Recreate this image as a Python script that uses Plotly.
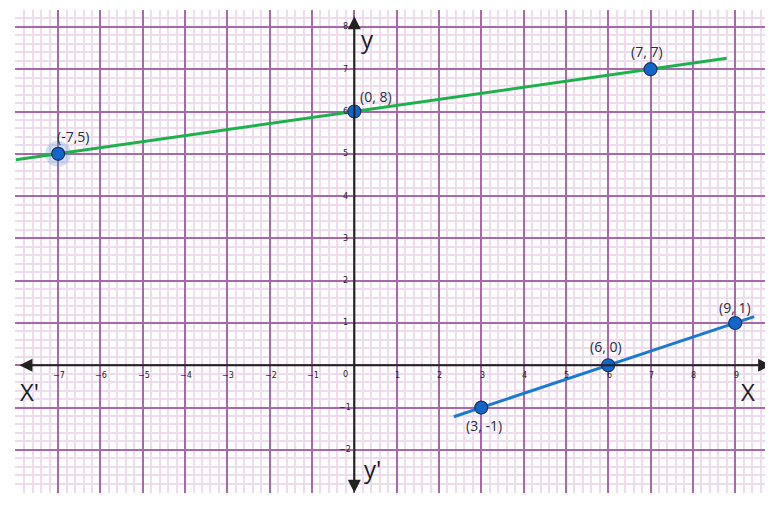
import plotly.graph_objects as go

# green line: y = x/7 + 6
green_x = [-8, 8.8]
green_y = [-8 / 7 + 6, 8.8 / 7 + 6]
green_pts_x = [-7, 0, 7]
green_pts_y = [5, 6, 7]
green_labels = ['(-7,5)', '(0, 8)', '(7, 7)']

# blue line: y = (x - 6)/3
blue_x = [2.35, 9.45]
blue_y = [(2.35 - 6) / 3, (9.45 - 6) / 3]
blue_pts_x = [3, 6, 9]
blue_pts_y = [-1, 0, 1]
blue_labels = ['(3, -1)', '(6, 0)', '(9, 1)']

x_ticks = [-7, -6, -5, -4, -3, -2, -1, 1, 2, 3, 4, 5, 6, 7, 8, 9]
y_ticks = [-2, -1, 1, 2, 3, 4, 5, 6, 7, 8]

fig = go.Figure()

# halo on (-7,5)
fig.add_trace(go.Scatter(x=[-7], y=[5], mode='markers',
                         marker=dict(size=26, color='rgba(90,140,215,0.28)'),
                         showlegend=False, hoverinfo='skip'))

fig.add_trace(go.Scatter(x=green_x, y=green_y, mode='lines',
                         line=dict(color='#1fb04e', width=3), showlegend=False))
fig.add_trace(go.Scatter(x=blue_x, y=blue_y, mode='lines',
                         line=dict(color='#1a7ad0', width=3), showlegend=False))

pt_marker = dict(size=13, color='#1565c8', line=dict(color='#16345f', width=1.2))
fig.add_trace(go.Scatter(x=green_pts_x, y=green_pts_y, mode='markers',
                         marker=pt_marker, showlegend=False))
fig.add_trace(go.Scatter(x=blue_pts_x, y=blue_pts_y, mode='markers',
                         marker=pt_marker, showlegend=False))

# axes with arrows at both ends
fig.add_annotation(x=9.85, y=0, ax=-7.95, ay=0, xref='x', yref='y', axref='x', ayref='y',
                   text='', showarrow=True, arrowhead=2, arrowside='end+start',
                   arrowsize=1.3, arrowwidth=2, arrowcolor='#222222', standoff=0, startstandoff=0)
fig.add_annotation(x=0, y=8.25, ax=0, ay=-3.05, xref='x', yref='y', axref='x', ayref='y',
                   text='', showarrow=True, arrowhead=2, arrowside='end+start',
                   arrowsize=1.3, arrowwidth=2, arrowcolor='#222222', standoff=0, startstandoff=0)

label_font = dict(family='Open Sans, Liberation Sans, sans-serif', size=14, color='#232c42')
offsets = {'(-7,5)': (15, -17), '(0, 8)': (22, -15), '(7, 7)': (-4, -18),
           '(3, -1)': (3, 18), '(6, 0)': (-2, -19), '(9, 1)': (0, -15)}
for xs, ys, labs in [(green_pts_x, green_pts_y, green_labels), (blue_pts_x, blue_pts_y, blue_labels)]:
    for px, py, lab in zip(xs, ys, labs):
        dx, dy = offsets[lab]
        fig.add_annotation(x=px, y=py, text=lab, showarrow=False, xshift=dx, yshift=-dy,
                           font=label_font)

tick_font = dict(family='DejaVu Sans, sans-serif', size=8, color='#222222')
for t in x_ticks:
    fig.add_annotation(x=t, y=0, text=str(t).replace('-', '\u2212'), showarrow=False,
                       xshift=1, yshift=-10, font=tick_font)
for t in y_ticks:
    fig.add_annotation(x=0, y=t, text=str(t).replace('-', '\u2212'), showarrow=False,
                       xshift=-9, yshift=0, font=tick_font)
fig.add_annotation(x=0, y=0, text='0', showarrow=False, xshift=-9, yshift=-9, font=tick_font)

big_font = dict(family='Open Sans, Liberation Sans, sans-serif', size=24, color='#1b1b2a')
fig.add_annotation(x=0, y=8, text='y', showarrow=False, xshift=13, yshift=-12, font=big_font)
fig.add_annotation(x=9.3, y=0, text='X', showarrow=False, xshift=0, yshift=-26, font=big_font)
fig.add_annotation(x=-8, y=0, text="X'", showarrow=False, xshift=14, yshift=-26, font=big_font)
fig.add_annotation(x=0, y=-2.4, text="y'", showarrow=False, xshift=18, yshift=-2, font=big_font)

axis_common = dict(showgrid=True, gridcolor='#a968a9', gridwidth=1.7, dtick=1, tick0=0,
                   showticklabels=False, zeroline=False, showline=False, ticks='',
                   minor=dict(dtick=0.2, tick0=0, showgrid=True, gridcolor='#eedcee', gridwidth=1.6))
fig.update_xaxes(range=[-8.02, 9.8], **axis_common)
fig.update_yaxes(range=[-3.02, 8.4], **axis_common)

# page body has an 8px margin, so the figure is drawn 8px in from the corner
fig.update_layout(width=765, height=498, margin=dict(l=7, r=4, t=2, b=13),
                  plot_bgcolor='white', paper_bgcolor='white', showlegend=False)

fig.write_html("out.html")
